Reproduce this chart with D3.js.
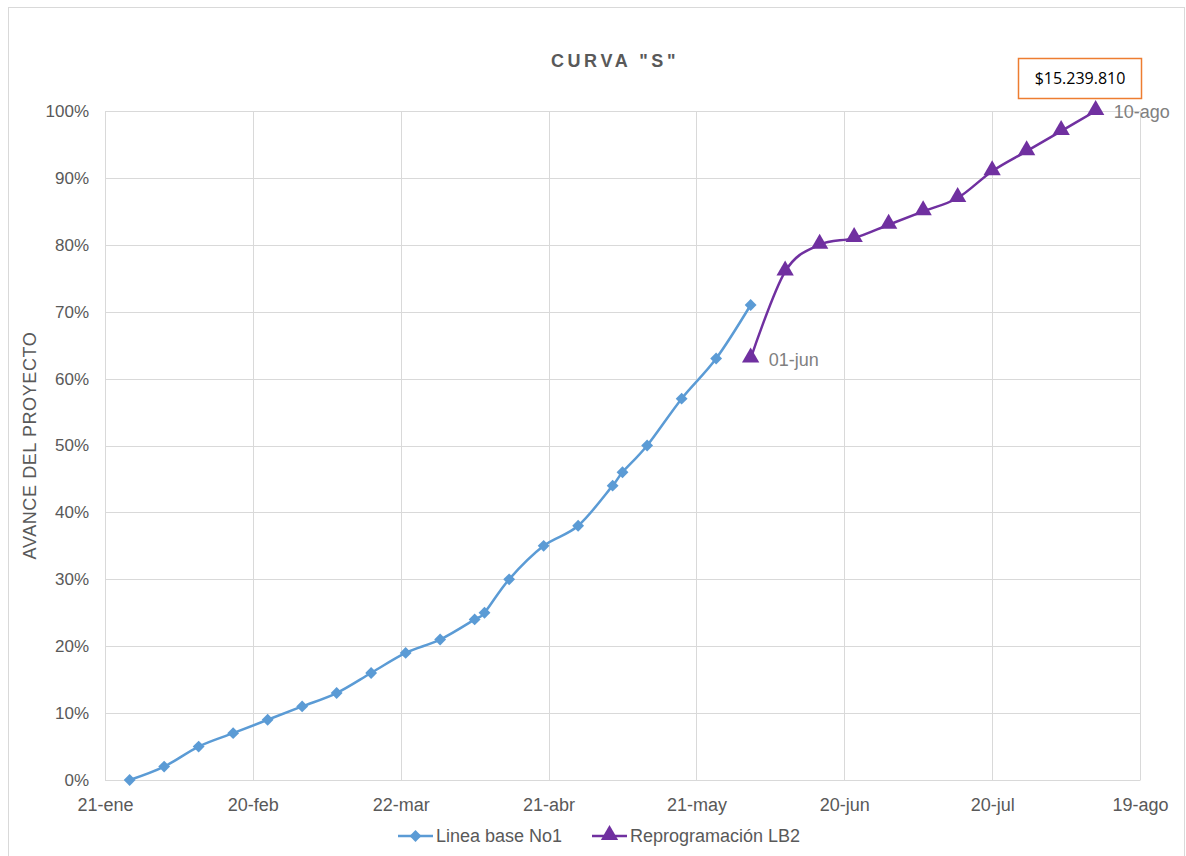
<!DOCTYPE html>
<html>
<head>
<meta charset="utf-8">
<script src="https://cdn.jsdelivr.net/npm/d3@7"></script>
<style>
body { margin: 0; background: #fff; }
text { font-family: "Liberation Sans", Arial, sans-serif; }
</style>
</head>
<body>
<svg class="chart" width="1186" height="856"></svg>
<script>
// fechas (2019, año no bisiesto)
var baseDates = ["2019-01-26","2019-02-02","2019-02-09","2019-02-16","2019-02-23","2019-03-02",
  "2019-03-09","2019-03-16","2019-03-23","2019-03-30","2019-04-06","2019-04-08","2019-04-13",
  "2019-04-20","2019-04-27","2019-05-04","2019-05-06","2019-05-11","2019-05-18","2019-05-25","2019-06-01"];
var baseValues = [0, 2, 5, 7, 9, 11, 13, 16, 19, 21, 24, 25, 30, 35, 38, 44, 46, 50, 57, 63, 71];

var reproDates = ["2019-06-01","2019-06-08","2019-06-15","2019-06-22","2019-06-29","2019-07-06",
  "2019-07-13","2019-07-20","2019-07-27","2019-08-03","2019-08-10"];
var reproValues = [63, 76, 80, 81, 83, 85, 87, 91, 94, 97, 100];

var xTicks = ["2019-01-21","2019-02-20","2019-03-22","2019-04-21","2019-05-21","2019-06-20","2019-07-20","2019-08-19"];
var yTicks = [0, 10, 20, 30, 40, 50, 60, 70, 80, 90, 100];
var meses = ["ene","feb","mar","abr","may","jun","jul","ago","sep","oct","nov","dic"];

var parse = d3.timeParse("%Y-%m-%d");
var base = baseDates.map(function(d, i) { return {date: parse(d), value: baseValues[i]}; });
var repro = reproDates.map(function(d, i) { return {date: parse(d), value: reproValues[i]}; });

var svg = d3.select(".chart");

// borde exterior
svg.append("rect")
  .attr("x", 8.5).attr("y", 7.5).attr("width", 1176).attr("height", 860)
  .attr("fill", "none").attr("stroke", "#d9d9d9");

var margin = {top: 111, left: 105, right: 46, bottom: 76};
var width = 1186 - margin.left - margin.right,
    height = 856 - margin.top - margin.bottom;

var g = svg.append("g").attr("transform", "translate(" + margin.left + "," + margin.top + ")");

var x = d3.scaleTime()
  .domain([parse(xTicks[0]), parse(xTicks[xTicks.length - 1])])
  .range([0, width]);
var y = d3.scaleLinear().domain([0, 100]).range([height, 0]);

var fmt = function(d) { return d3.timeFormat("%d")(d) + "-" + meses[d.getMonth()]; };

// grid
g.selectAll(".hgrid").data(yTicks).enter().append("line")
  .attr("x1", 0).attr("x2", width)
  .attr("y1", function(d) { return Math.round(y(d)) + 0.5; })
  .attr("y2", function(d) { return Math.round(y(d)) + 0.5; })
  .attr("stroke", "#d9d9d9");
g.selectAll(".vgrid").data(xTicks.map(parse)).enter().append("line")
  .attr("x1", function(d) { return Math.round(x(d)) + 0.5; })
  .attr("x2", function(d) { return Math.round(x(d)) + 0.5; })
  .attr("y1", 0).attr("y2", height)
  .attr("stroke", "#d9d9d9");

// ejes
var yAxis = d3.axisLeft(y).tickValues(yTicks).tickSize(0).tickPadding(16)
  .tickFormat(function(d) { return d + "%"; });
g.append("g").attr("class", "y axis").call(yAxis)
  .call(function(s) { s.select(".domain").remove(); })
  .selectAll("text").attr("fill", "#595959").style("font-size", "17px");

var xAxis = d3.axisBottom(x).tickValues(xTicks.map(parse)).tickSize(0).tickPadding(18)
  .tickFormat(fmt);
g.append("g").attr("class", "x axis").attr("transform", "translate(0," + height + ")").call(xAxis)
  .call(function(s) { s.select(".domain").attr("stroke", "#d9d9d9"); })
  .selectAll("text").attr("fill", "#595959").style("font-size", "18px");

// titulo
svg.append("text")
  .attr("x", 615).attr("y", 67)
  .attr("text-anchor", "middle")
  .attr("fill", "#595959")
  .style("font-size", "18px").style("font-weight", "bold").style("letter-spacing", "3.6px")
  .text('CURVA "S"');

svg.append("text")
  .attr("transform", "translate(36," + (margin.top + height / 2) + ") rotate(-90)")
  .attr("text-anchor", "middle")
  .attr("fill", "#595959")
  .style("font-size", "18px").style("letter-spacing", "0.6px")
  .text("AVANCE DEL PROYECTO");

// lineas
var line = d3.line()
  .x(function(d) { return x(d.date); })
  .y(function(d) { return y(d.value); })
  .curve(d3.curveCatmullRom.alpha(0));

var blue = "#5b9bd5", purple = "#7030a0";

g.append("path").datum(base).attr("d", line)
  .attr("fill", "none").attr("stroke", blue).attr("stroke-width", 2.5);
g.append("path").datum(repro).attr("d", line)
  .attr("fill", "none").attr("stroke", purple).attr("stroke-width", 2.5);

var diamond = d3.symbol().type(d3.symbolSquare).size(70);
g.selectAll(".pb").data(base).enter().append("path")
  .attr("d", diamond)
  .attr("transform", function(d) { return "translate(" + x(d.date) + "," + y(d.value) + ") rotate(45)"; })
  .attr("fill", blue);

var tri = d3.symbol().type(d3.symbolTriangle).size(130);
g.selectAll(".pr").data(repro).enter().append("path")
  .attr("d", tri)
  .attr("transform", function(d) { return "translate(" + x(d.date) + "," + (y(d.value) - 1) + ")"; })
  .attr("fill", purple);

// etiquetas de datos
var first = repro[0], last = repro[repro.length - 1];
g.append("text")
  .attr("x", x(first.date) + 18).attr("y", y(first.value) + 7)
  .attr("fill", "#808080").style("font-size", "18px")
  .text(fmt(first.date));
g.append("text")
  .attr("x", x(last.date) + 18).attr("y", y(last.value) + 7)
  .attr("fill", "#808080").style("font-size", "18px")
  .text(fmt(last.date));

// cuadro de costo
svg.append("rect")
  .attr("x", 1018.5).attr("y", 58.5).attr("width", 123).attr("height", 40)
  .attr("fill", "#fff").attr("stroke", "#ed7d31").attr("stroke-width", 1.5);
svg.append("text")
  .attr("x", 1080).attr("y", 84)
  .attr("text-anchor", "middle").attr("fill", "#000")
  .style("font-family", "'Open Sans', sans-serif").style("font-size", "16px").style("font-weight", "normal")
  .text("$15.239.810");

// leyenda
var legend = [
  {name: "Linea base No1", color: blue, sym: diamond, rot: 45, x: 398},
  {name: "Reprogramación LB2", color: purple, sym: tri, rot: 0, x: 592}
];
var lg = svg.selectAll(".lg").data(legend).enter().append("g")
  .attr("transform", function(d) { return "translate(" + d.x + ",836)"; });
lg.append("line").attr("x1", 0).attr("x2", 35).attr("stroke", function(d) { return d.color; }).attr("stroke-width", 2.5);
lg.append("path")
  .attr("d", function(d) { return d.sym(); })
  .attr("transform", function(d) { return "translate(17.5," + (d.rot ? 0 : -1) + ") rotate(" + d.rot + ")"; })
  .attr("fill", function(d) { return d.color; });
lg.append("text").attr("x", 38).attr("y", 6)
  .attr("fill", "#595959").style("font-size", "18px")
  .text(function(d) { return d.name; });
</script>
</body>
</html>
